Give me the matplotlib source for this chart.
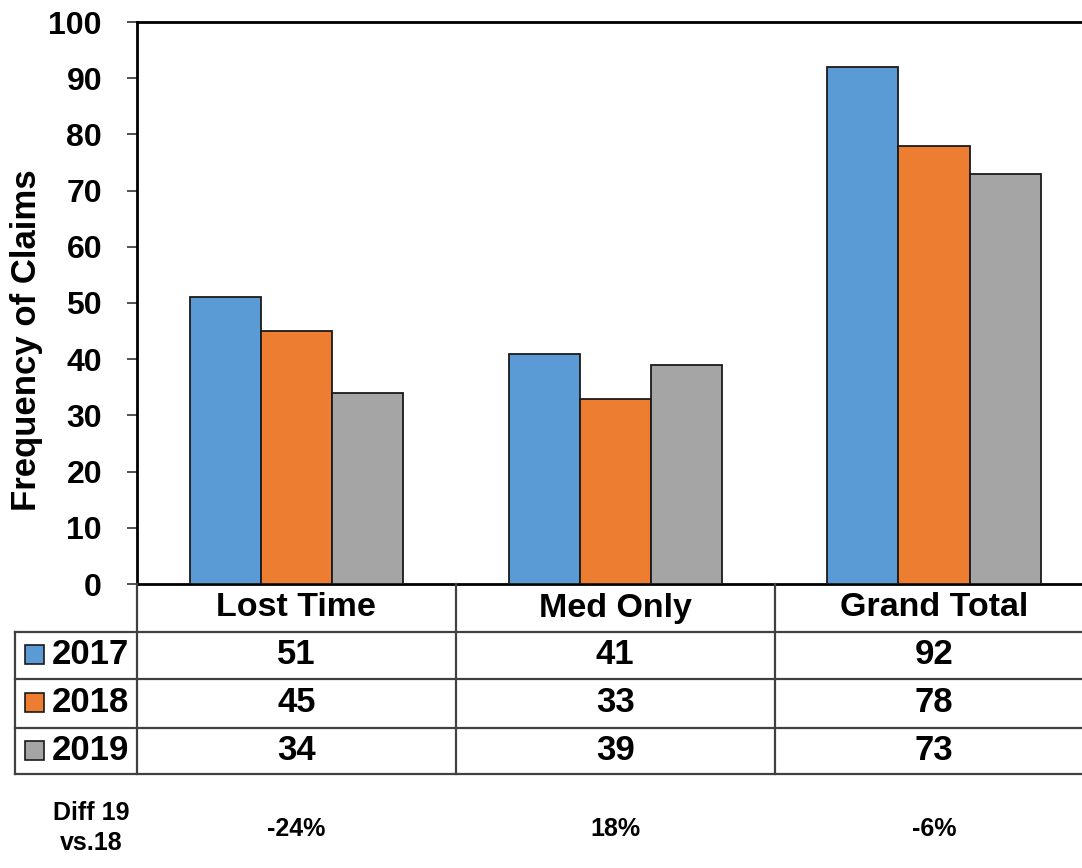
import matplotlib
matplotlib.use("Agg")
import matplotlib.pyplot as plt
from matplotlib.lines import Line2D
from matplotlib.patches import Rectangle
import matplotlib.transforms as mtransforms

plt.rcParams['font.family'] = ['Liberation Sans', 'DejaVu Sans']
plt.rcParams['font.weight'] = 'bold'

categories = ["Lost Time", "Med Only", "Grand Total"]
years = ["2017", "2018", "2019"]
values_2017 = [51, 41, 92]
values_2018 = [45, 33, 78]
values_2019 = [34, 39, 73]
diff_labels = ["-24%", "18%", "-6%"]
diff_title = "Diff 19\nvs.18"
yticks = [0, 10, 20, 30, 40, 50, 60, 70, 80, 90, 100]
colors = ["#5B9BD5", "#ED7D31", "#A5A5A5"]

W, H = 1082, 868
fig = plt.figure(figsize=(W / 100, H / 100), dpi=100)

def fy(py):
    return 1 - py / H

def fx(px):
    return px / W

ax_left, ax_right, ax_top, ax_bottom = 137, 1082, 22, 584
ax = fig.add_axes([fx(ax_left), fy(ax_bottom), fx(ax_right - ax_left), fy(ax_top) - fy(ax_bottom)])

series = [values_2017, values_2018, values_2019]
bw = 0.223
xs = list(range(len(categories)))
for i, vals in enumerate(series):
    ax.bar([x + (i - 1) * bw for x in xs], vals, width=bw, color=colors[i],
           edgecolor="#1a1a1a", linewidth=1.3, zorder=3)

ax.set_xlim(-0.5, -0.5 + (ax_right - ax_left) / 318.8)
ax.set_ylim(0, 100)
ax.set_yticks(yticks)
ax.set_xticks([])
ax.tick_params(axis='y', direction='out', length=7.2, width=1.2, pad=18, labelsize=23, color="#333333")
for lbl in ax.get_yticklabels():
    lbl.set_fontweight('bold')
ax.spines['right'].set_visible(False)
for s in ['left', 'top', 'bottom']:
    ax.spines[s].set_linewidth(2.0)
    ax.spines[s].set_color('black')

fig.text(fx(27), fy(340), "Frequency of Claims", rotation=90, ha='center', va='center',
         fontsize=25, fontweight='bold')

# Table
blend = mtransforms.blended_transform_factory(ax.transData, fig.transFigure)
line_col = "#404040"
row_y = [584, 632, 679, 728, 774]
for py in row_y[1:]:
    fig.add_artist(Line2D([fx(15), 1.0], [fy(py), fy(py)], transform=fig.transFigure,
                          color=line_col, linewidth=1.6))
fig.add_artist(Line2D([fx(15), fx(15)], [fy(632), fy(774)], transform=fig.transFigure,
                      color=line_col, linewidth=1.6))
fig.add_artist(Line2D([fx(137), fx(137)], [fy(584), fy(774)], transform=fig.transFigure,
                      color=line_col, linewidth=1.6))
for xd in [0.5, 1.5]:
    fig.add_artist(Line2D([xd, xd], [fy(584), fy(774)], transform=blend,
                          color=line_col, linewidth=1.6))

for x, c in zip(xs, categories):
    fig.text(x, fy(608), c, transform=blend, ha='center', va='center', fontsize=24.5, fontweight='bold')

row_centers = [655, 703, 751]
for i, (yr, vals) in enumerate(zip(years, series)):
    cy = row_centers[i]
    fig.add_artist(Rectangle((fx(25), fy(cy + 9)), fx(19), fy(cy - 10) - fy(cy + 9),
                             transform=fig.transFigure, facecolor=colors[i],
                             edgecolor="#1a1a1a", linewidth=1.2))
    fig.text(fx(52), fy(cy), yr, ha='left', va='center', fontsize=25, fontweight='bold')
    for x, v in zip(xs, vals):
        fig.text(x, fy(cy), str(v), transform=blend, ha='center', va='center',
                 fontsize=25, fontweight='bold')

fig.text(fx(91), fy(828), diff_title, ha='center', va='center', fontsize=18,
         fontweight='bold', linespacing=1.3)
for x, d in zip(xs, diff_labels):
    fig.text(x, fy(829), d, transform=blend, ha='center', va='center', fontsize=18,
             fontweight='bold')

fig.savefig("out.png", dpi=100, facecolor='white')
